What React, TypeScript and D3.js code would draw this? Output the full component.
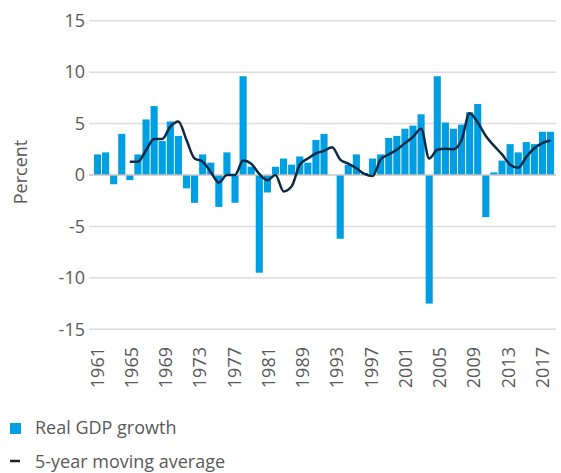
import * as d3 from "d3";
import { useEffect, useRef } from "react";

const years = d3.range(1961, 2018).map(String);

const gdpGrowth = [
  2.0, 2.2, -0.9, 4.0, -0.5, 2.0, 5.4, 6.7, 3.3, 5.2,
  3.8, -1.3, -2.7, 2.0, 1.2, -3.1, 2.2, -2.7, 9.6, 0.8,
  -9.5, -1.7, 0.8, 1.6, 1.0, 1.8, 1.2, 3.4, 4.0, 0.0,
  -6.2, 1.0, 2.0, 0.2, 1.6, 2.0, 3.6, 3.8, 4.5, 4.8,
  5.9, -12.5, 9.6, 5.1, 4.5, 4.9, 6.1, 6.9, -4.1, 0.25,
  1.4, 3.0, 2.2, 3.2, 3.0, 4.2, 4.2,
];

// moving average starts at the 5th year
const movingAvg = [
  1.3, 1.3, 2.4, 3.5, 3.5, 4.7, 5.2, 3.4, 1.6, 1.3,
  0.3, -0.75, 0.0, 0.0, 1.4, 1.1, 0.1, -0.5, 0.0, -1.6,
  -1.1, 1.0, 1.6, 2.1, 2.35, 2.7, 1.5, 1.1, 0.65, 0.1,
  -0.1, 1.5, 2.0, 2.45, 3.1, 3.7, 4.5, 1.6, 2.45, 2.55,
  2.5, 3.4, 6.0, 5.1, 3.8, 2.85, 2.0, 1.0, 0.7, 1.75,
  2.6, 3.1, 3.35,
];

const yTicks = [15, 10, 5, 0, -5, -10, -15];

const tickLabels = [
  "1961", "1965", "1969", "1973", "1977", "1981", "1989",
  "1993", "1997", "2001", "2005", "2009", "2013", "2017",
];

const BAR_COLOR = "#009fe3";
const LINE_COLOR = "#0c2a46";
const TEXT_COLOR = "#595959";
const FONT = "'Open Sans', sans-serif";
const FONT_SIZE = "18px";

const drawChart = (svgElement: SVGSVGElement) => {
  const svg = d3.select(svgElement);
  svg.selectAll("*").remove();

  const xScale = d3
    .scaleBand<string>()
    .domain(years)
    .range([93.45, 554.6])
    .paddingInner(0.12)
    .paddingOuter(0.06);
  const center = (year: string) => (xScale(year) ?? 0) + xScale.bandwidth() / 2;

  const yScale = d3.scaleLinear().domain([-15, 15]).range([329.3, 20.7]);

  // grid
  svg
    .append("g")
    .selectAll("line")
    .data(yTicks.filter((t) => t !== 0))
    .join("line")
    .attr("x1", 89)
    .attr("x2", 556)
    .attr("y1", (t) => yScale(t))
    .attr("y2", (t) => yScale(t))
    .attr("stroke", "#dcdcdc")
    .attr("stroke-width", 1.5);

  svg
    .append("g")
    .selectAll("text")
    .data(yTicks)
    .join("text")
    .attr("x", 85)
    .attr("y", (t) => yScale(t))
    .attr("dy", "0.35em")
    .attr("text-anchor", "end")
    .style("font-family", FONT)
    .style("font-size", FONT_SIZE)
    .attr("fill", TEXT_COLOR)
    .text((t) => String(t));

  svg
    .append("text")
    .attr("transform", `translate(27,${yScale(0) - 3}) rotate(-90)`)
    .attr("text-anchor", "middle")
    .style("font-family", FONT)
    .style("font-size", FONT_SIZE)
    .attr("fill", TEXT_COLOR)
    .text("Percent");

  // bars
  svg
    .append("g")
    .selectAll("rect")
    .data(gdpGrowth)
    .join("rect")
    .attr("x", (_, i) => xScale(years[i]) ?? 0)
    .attr("y", (v) => yScale(Math.max(0, v)))
    .attr("width", xScale.bandwidth())
    .attr("height", (v) => Math.abs(yScale(v) - yScale(0)))
    .attr("fill", BAR_COLOR);

  // zero line
  svg
    .append("line")
    .attr("x1", 89)
    .attr("x2", 556)
    .attr("y1", yScale(0))
    .attr("y2", yScale(0))
    .attr("stroke", "#c4c4c4")
    .attr("stroke-width", 1.5);

  // moving average
  const avgYears = years.slice(4);
  const line = d3
    .line<number>()
    .x((_, i) => center(avgYears[i]))
    .y((v) => yScale(v))
    .curve(d3.curveMonotoneX);

  svg
    .append("path")
    .datum(movingAvg)
    .attr("d", line)
    .attr("fill", "none")
    .attr("stroke", LINE_COLOR)
    .attr("stroke-width", 2.5)
    .attr("stroke-linejoin", "round");

  // x labels
  const labelScale = d3
    .scalePoint<string>()
    .domain(tickLabels)
    .range([center(years[0]), center(years[55])]);

  svg
    .append("g")
    .selectAll("text")
    .data(tickLabels)
    .join("text")
    .attr("transform", (d) => `translate(${labelScale(d) ?? 0},347) rotate(-90)`)
    .attr("dy", "0.35em")
    .attr("text-anchor", "end")
    .style("font-family", FONT)
    .style("font-size", FONT_SIZE)
    .attr("fill", TEXT_COLOR)
    .text((d) => d);

  // legend
  const legend = svg.append("g");
  legend
    .append("rect")
    .attr("x", 10)
    .attr("y", 423)
    .attr("width", 11)
    .attr("height", 11)
    .attr("fill", BAR_COLOR);
  legend
    .append("text")
    .attr("x", 35)
    .attr("y", 434)
    .style("font-family", FONT)
    .style("font-size", FONT_SIZE)
    .attr("fill", TEXT_COLOR)
    .text("Real GDP growth");
  legend
    .append("line")
    .attr("x1", 10)
    .attr("x2", 20)
    .attr("y1", 461)
    .attr("y2", 461)
    .attr("stroke", "#222")
    .attr("stroke-width", 2.5);
  legend
    .append("text")
    .attr("x", 35)
    .attr("y", 467.5)
    .style("font-family", FONT)
    .style("font-size", FONT_SIZE)
    .attr("fill", TEXT_COLOR)
    .text("5-year moving average");
};

const App = () => {
  const svgRef = useRef<SVGSVGElement | null>(null);

  useEffect(() => {
    if (svgRef.current) drawChart(svgRef.current);
  }, []);

  return (
    <svg
      ref={svgRef}
      width={561}
      height={473}
      style={{ position: "absolute", left: 0, top: 0, background: "white" }}
    />
  );
};

export default App;
